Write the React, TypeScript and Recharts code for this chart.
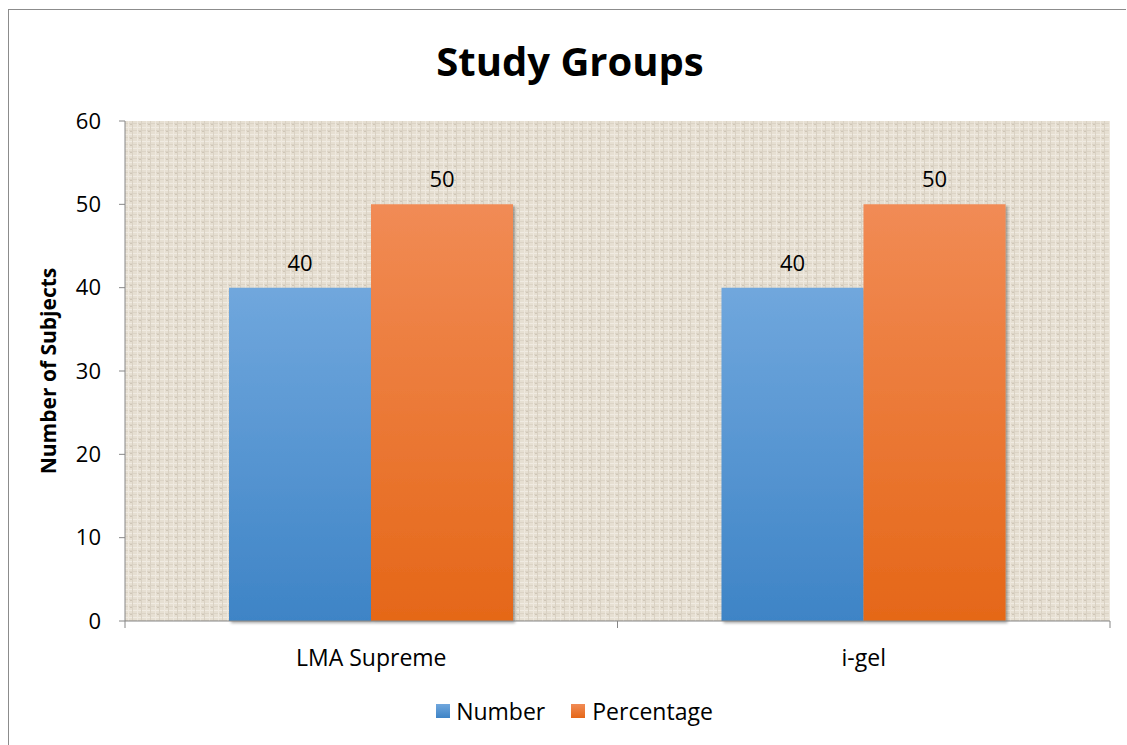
import React from 'react';
import { BarChart, Bar, XAxis, YAxis, CartesianGrid, LabelList } from 'recharts';

const categories = ['LMA Supreme', 'i-gel'];
const numberValues = [40, 40];
const percentageValues = [50, 50];
const yTicks = [0, 10, 20, 30, 40, 50, 60];

const chartData = categories.map((name, i) => ({
  name,
  number: numberValues[i],
  percentage: percentageValues[i],
}));

const FONT = '"Open Sans", "Noto Sans", sans-serif';
const PLOT_LEFT = 125;
const PLOT_RIGHT = 1110;
const BAND = (PLOT_RIGHT - PLOT_LEFT) / categories.length;

const CategoryTick = (props: any) => {
  const { x, y, payload, index } = props;
  return (
    <g>
      <line x1={x - BAND / 2} y1={y} x2={x - BAND / 2} y2={y + 7} stroke="#868686" />
      {index === categories.length - 1 && (
        <line x1={x + BAND / 2} y1={y} x2={x + BAND / 2} y2={y + 7} stroke="#868686" />
      )}
      <text x={x} y={y + 36} textAnchor="middle" dominantBaseline="central" fill="#000" fontSize={23} fontFamily={FONT}>
        {payload.value}
      </text>
    </g>
  );
};

const App: React.FC = () => {
  return (
    <div style={{ position: 'absolute', left: 0, top: 0, width: 1127, height: 745, background: '#fff' }}>
      <div style={{ position: 'absolute', left: 8, top: 9, width: 1118, height: 736, border: '1px solid #8c8c8c', boxSizing: 'border-box', borderRight: 'none', borderBottom: 'none' }} />
      <div style={{ position: 'absolute', left: 0, top: 33, width: 1140, textAlign: 'center', fontFamily: FONT, fontWeight: 700, fontSize: 40, lineHeight: '56px', color: '#000' }}>
        Study Groups
      </div>
      <div style={{ position: 'absolute', left: 48, top: 371, transform: 'translate(-50%, -50%) rotate(-90deg)', whiteSpace: 'nowrap', fontFamily: FONT, fontWeight: 700, fontSize: 21, color: '#000' }}>
        Number of Subjects
      </div>
      <div style={{ position: 'absolute', left: 0, top: 0 }}>
        <BarChart
          width={1127}
          height={745}
          data={chartData}
          margin={{ top: 121, right: 1127 - PLOT_RIGHT, bottom: 84, left: PLOT_LEFT - 60 }}
          barGap={0}
          barCategoryGap={104}
        >
          <defs>
            <pattern id="linen" width="9" height="7" patternUnits="userSpaceOnUse">
              <rect width="9" height="7" fill="#e6dfd2" />
              <rect x="0" y="1" width="9" height="1" fill="#f0ebe2" />
              <rect x="0" y="4" width="9" height="1" fill="#dcd4c6" />
              <rect x="2" y="0" width="1" height="7" fill="#eee8de" />
              <rect x="6" y="0" width="1" height="7" fill="#d9d1c3" />
              <rect x="4" y="5" width="2" height="1" fill="#cfc6b7" />
            </pattern>
            <linearGradient id="blueGrad" x1="0" y1="0" x2="0" y2="1">
              <stop offset="0%" stopColor="#70a7dd" />
              <stop offset="100%" stopColor="#3e84c6" />
            </linearGradient>
            <linearGradient id="orangeGrad" x1="0" y1="0" x2="0" y2="1">
              <stop offset="0%" stopColor="#f18b55" />
              <stop offset="100%" stopColor="#e56718" />
            </linearGradient>
            <filter id="barShadow" x="-10%" y="-10%" width="125%" height="125%">
              <feDropShadow dx="2" dy="2" stdDeviation="1.5" floodColor="#000" floodOpacity="0.35" />
            </filter>
          </defs>
          <CartesianGrid horizontal={false} vertical={false} fill="url(#linen)" stroke="none" />
          <XAxis
            dataKey="name"
            axisLine={{ stroke: '#868686' }}
            tickLine={false}
            tickSize={0}
            tickMargin={0}
            height={40}
            tick={<CategoryTick />}
            interval={0}
          />
          <YAxis
            domain={[0, 60]}
            ticks={yTicks}
            width={60}
            axisLine={{ stroke: '#868686' }}
            tickLine={{ stroke: '#868686' }}
            tickSize={6}
            tickMargin={18}
            tick={{ fill: '#000', fontSize: 22, fontFamily: FONT }}
          />
          <Bar dataKey="number" name="Number" fill="url(#blueGrad)" filter="url(#barShadow)" isAnimationActive={false}>
            <LabelList dataKey="number" position="top" offset={17} fill="#000" fontSize={22} fontFamily={FONT} />
          </Bar>
          <Bar dataKey="percentage" name="Percentage" fill="url(#orangeGrad)" filter="url(#barShadow)" isAnimationActive={false}>
            <LabelList dataKey="percentage" position="top" offset={17} fill="#000" fontSize={22} fontFamily={FONT} />
          </Bar>
        </BarChart>
      </div>
      <div style={{ position: 'absolute', left: 0, top: 695, width: 1149, display: 'flex', justifyContent: 'center', alignItems: 'center', fontFamily: FONT, fontSize: 23, color: '#000' }}>
        <span style={{ display: 'inline-block', width: 14, height: 14, background: 'linear-gradient(#70a7dd, #3e84c6)', marginRight: 6 }} />
        <span style={{ marginRight: 26 }}>Number</span>
        <span style={{ display: 'inline-block', width: 14, height: 14, background: 'linear-gradient(#f18b55, #e56718)', marginRight: 7 }} />
        <span>Percentage</span>
      </div>
    </div>
  );
};

export default App;
